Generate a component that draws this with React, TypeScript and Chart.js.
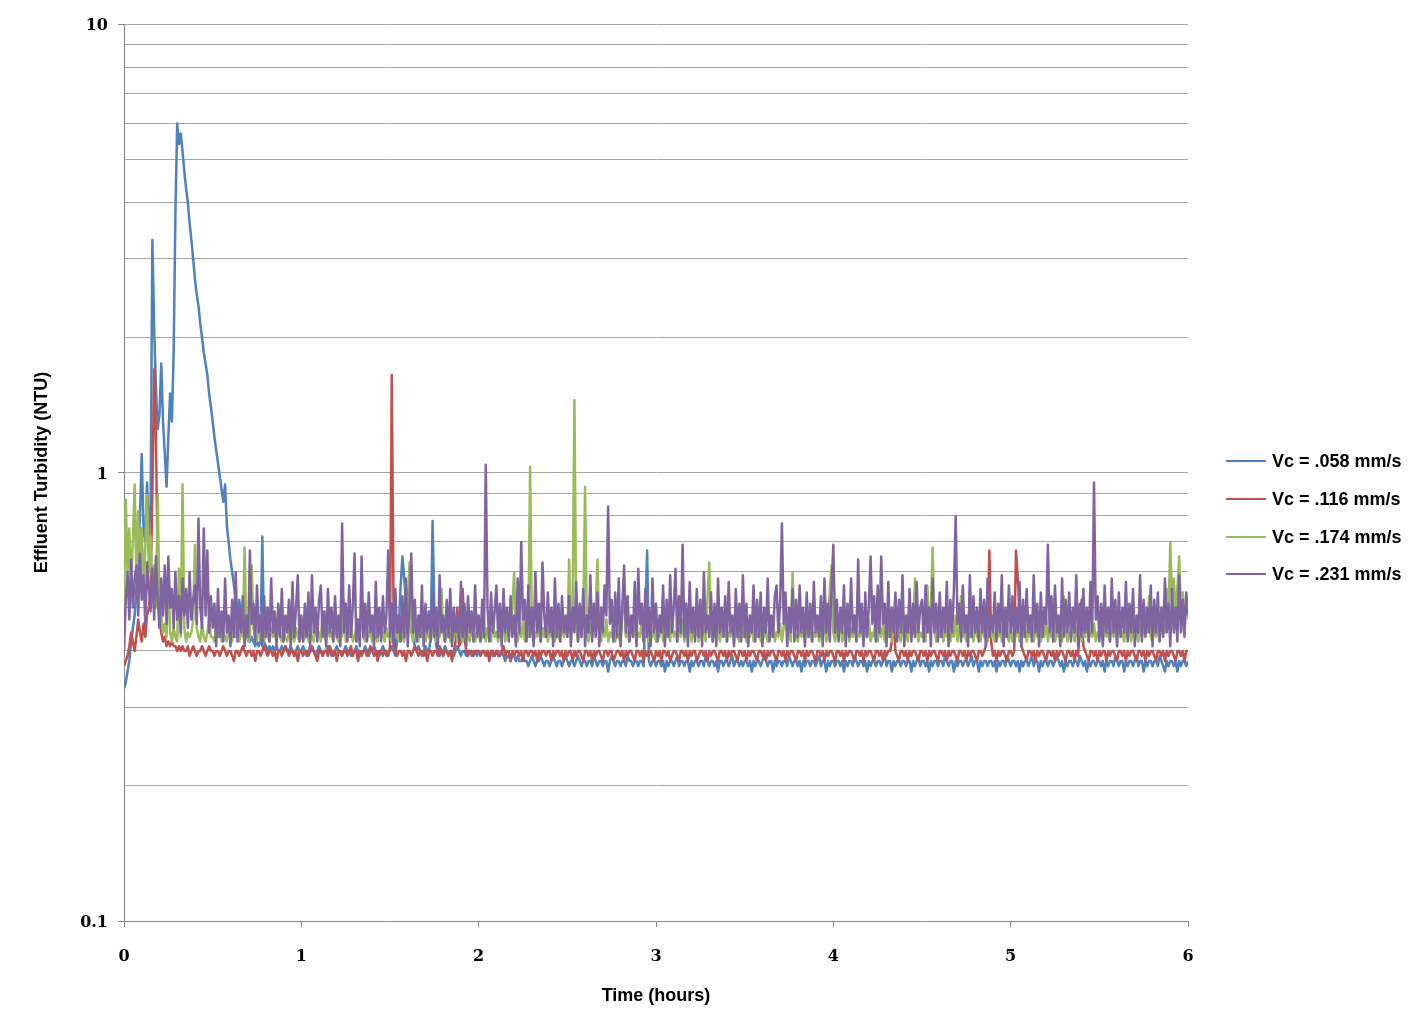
import React, { useEffect, useRef } from 'react';
import { Chart, registerables } from 'chart.js';

Chart.register(...registerables);

// Sample interval of the logged data (hours)
const STEP_HOURS = 0.01;
// The series below are stored in hundredths of an NTU
const NTU_PER_UNIT = 0.01;

const SERIES_NAMES = ['Vc = .058 mm/s', 'Vc = .116 mm/s', 'Vc = .174 mm/s', 'Vc = .231 mm/s'];
const SERIES_COLORS = ['#4F81BD', '#C0504D', '#9BBB59', '#8064A2'];

const Y_TICKS = [0.1, 0.2, 0.3, 0.4, 0.5, 0.6, 0.7, 0.8, 0.9, 1, 2, 3, 4, 5, 6, 7, 8, 9, 10];
const Y_LABELED = [0.1, 1, 10];
const Y_LABEL_TEXT = ['0.1', '1', '10'];
const X_MIN = 0;
const X_MAX = 6;

const BLUE_058 = [
  33,34,36,38,42,45,48,55,62,80,110,75,70,95,72,85,330,210,155,125,135,175,130,110,93,120,150,130,185,380,600,540,570,520,470,430,400,360,330,300,270,250,235,215,200,185,175,165,150,140,
  130,120,112,105,98,92,86,94,76,70,64,60,56,52,49,52,47,46,44,45,43,42,43,42,41,42,41,42,72,42,41,40,41,40,41,40,41,40,40,41,40,41,40,40,41,40,39,40,41,40,
  40,41,40,39,40,41,40,40,39,40,41,40,39,40,40,41,40,39,40,40,41,40,40,39,40,41,40,40,39,40,40,41,40,39,40,40,41,40,39,40,40,41,40,40,39,40,41,40,39,40,
  40,41,40,39,42,45,56,65,58,52,55,48,45,43,41,40,41,40,39,40,41,40,40,43,78,50,41,40,39,40,40,41,40,39,40,40,39,40,41,40,39,40,40,39,40,40,39,40,40,39,
  40,39,40,40,39,40,39,40,39,39,40,39,39,40,39,38,39,39,38,39,39,38,39,38,38,39,38,38,37,38,39,38,37,38,38,39,38,37,38,38,37,38,39,38,37,38,38,37,38,39,
  38,37,38,38,37,38,39,38,37,38,38,37,38,38,37,39,38,37,38,38,37,38,38,36,38,39,38,37,38,38,37,38,38,37,39,38,38,37,38,38,37,38,38,37,48,67,38,37,38,38,
  37,38,38,37,38,36,38,37,38,38,37,38,39,37,38,38,37,38,38,36,38,37,38,38,37,38,38,37,39,38,37,38,38,37,38,36,38,38,37,38,38,37,38,39,37,38,38,37,38,37,
  38,38,37,38,36,38,37,38,38,37,38,39,38,37,38,38,36,38,37,38,38,37,38,38,37,39,38,37,38,38,37,38,36,38,37,38,38,37,38,38,37,38,39,37,38,38,36,38,37,38,
  38,37,38,38,37,38,36,38,37,38,38,37,39,38,37,38,38,37,38,36,38,37,38,38,37,38,38,37,38,39,37,38,38,36,38,37,38,38,37,38,38,37,38,38,36,38,37,38,39,37,
  38,38,37,38,36,38,37,38,38,37,38,38,37,39,38,37,38,38,36,38,37,38,38,37,38,38,37,38,39,37,38,38,36,38,37,38,38,37,38,38,37,38,36,38,37,38,38,37,39,38,
  37,38,38,37,38,36,38,37,38,38,37,38,39,37,38,38,36,38,37,38,38,37,38,38,37,38,39,38,37,38,36,38,37,38,38,37,38,38,37,39,38,37,38,36,38,37,38,38,37,38,
  38,37,38,36,38,37,38,38,37,39,38,37,38,38,36,38,37,38,38,37,38,39,37,38,38,36,38,37,38,38,37,38,38,37,39,38,37,36,38,37,38,38,37,38,36,38,37,38,38,37,
  38
];

const RED_116 = [
  37,38,39,41,44,42,40,43,47,44,42,46,43,48,50,55,90,170,120,60,47,44,42,43,41,42,41,42,41,41,40,41,40,41,40,40,41,39,40,41,40,39,40,40,41,40,39,40,41,40,
  40,39,40,40,39,40,41,40,39,40,40,39,38,40,40,39,40,41,40,39,40,40,39,40,38,40,40,39,40,41,40,39,40,40,39,40,38,40,40,39,40,41,40,39,40,40,39,40,38,40,
  40,39,40,40,39,40,41,40,39,38,40,40,39,40,40,39,41,40,39,40,38,40,40,39,40,40,39,40,41,39,40,40,38,40,39,40,40,39,40,41,40,39,40,38,40,40,39,40,40,39,
  41,165,50,40,39,40,40,39,40,38,40,40,39,40,41,40,39,40,40,39,40,38,40,40,39,40,40,39,41,40,39,40,40,39,40,38,40,42,50,41,42,55,43,40,39,40,40,39,40,40,
  40,39,40,40,39,40,38,40,40,39,40,40,39,40,41,39,40,40,38,40,39,40,40,39,40,38,40,40,39,40,40,39,40,38,40,39,40,40,39,40,40,38,40,39,40,40,39,40,38,40,
  39,40,40,38,40,39,40,40,39,38,40,40,39,40,38,40,39,40,40,39,38,40,40,39,40,40,38,39,40,40,39,40,38,40,39,40,40,39,38,40,40,39,40,38,40,39,40,40,39,38,
  40,39,40,38,40,40,39,40,38,39,40,40,39,38,40,40,39,40,38,40,39,40,40,38,39,40,40,39,40,38,40,39,40,40,39,38,40,40,39,40,38,40,39,40,40,39,38,40,40,39,
  40,38,40,39,40,40,39,38,40,40,39,40,38,40,39,40,40,39,38,40,40,39,40,38,40,39,40,40,39,38,40,40,39,40,38,40,39,40,40,39,38,40,40,39,40,38,40,39,40,40,
  39,38,40,40,39,40,38,40,39,40,40,39,38,40,40,39,40,38,40,39,40,40,39,38,40,40,39,40,38,40,39,40,40,42,48,40,39,38,40,40,39,40,38,40,39,40,40,39,38,40,
  40,39,40,38,40,39,40,40,39,38,40,40,39,40,38,40,39,40,40,39,38,40,40,39,40,38,40,39,40,40,39,38,40,40,39,40,41,45,67,42,39,40,38,40,39,40,40,39,38,40,
  40,39,40,67,58,50,41,40,39,38,40,40,39,40,38,40,39,40,40,39,38,40,40,39,40,38,40,39,40,40,39,38,40,40,39,40,38,40,39,45,52,41,40,39,38,40,40,39,40,38,
  40,39,40,40,38,40,39,40,40,39,38,40,40,39,40,38,40,39,40,40,39,38,40,40,39,40,38,40,39,40,40,39,38,40,40,39,40,38,40,39,40,40,39,38,40,40,39,40,38,40,
  40
];

const GREEN_174 = [
  50,87,60,75,55,70,94,58,82,62,75,55,68,89,60,72,55,62,50,89,50,48,44,46,43,61,44,42,45,43,42,61,43,94,45,42,44,43,44,47,69,45,43,42,46,43,42,44,47,43,
  43,42,45,43,47,42,44,43,42,46,43,42,48,43,44,42,45,43,68,44,42,43,62,45,43,42,46,43,44,42,50,43,42,45,43,44,42,47,43,42,45,43,42,44,48,43,42,45,43,42,
  44,42,43,47,42,45,43,42,46,43,44,42,49,43,42,45,43,44,42,47,43,42,45,43,52,42,44,43,46,42,43,45,42,44,48,43,42,45,43,44,42,46,43,42,47,43,44,42,45,43,
  43,42,45,43,44,42,47,43,42,45,50,63,44,42,46,43,42,45,43,48,42,44,43,42,46,43,42,45,43,55,44,42,43,46,42,44,43,48,42,45,43,42,44,47,43,42,45,43,42,44,
  44,42,43,46,42,45,43,42,47,43,44,42,45,43,48,42,44,43,46,50,60,44,42,45,43,47,42,44,43,103,45,42,44,43,46,42,45,43,48,42,44,43,46,42,45,43,42,47,43,45,
  43,64,44,50,145,46,42,45,43,48,93,44,42,46,43,45,50,64,43,42,45,43,47,42,44,43,46,42,45,43,42,48,55,43,44,42,46,43,45,42,44,43,47,42,45,43,42,46,43,44,
  42,45,43,47,42,44,43,46,42,48,43,44,42,45,43,47,42,44,43,50,42,45,43,46,42,44,43,47,42,52,63,45,42,44,43,46,42,45,43,48,42,44,43,46,42,45,43,42,47,43,
  44,42,45,43,47,42,44,43,46,42,48,43,44,42,45,43,47,42,44,43,46,42,45,50,43,44,42,60,45,43,42,46,43,44,42,48,43,45,42,44,43,47,42,45,43,46,42,44,55,62,
  44,42,45,43,47,42,44,43,46,42,45,43,48,42,44,43,46,42,45,43,47,42,44,43,50,42,45,43,46,42,44,43,47,42,45,53,43,44,42,46,43,45,42,48,43,44,58,45,42,44,
  43,45,42,56,44,50,68,45,42,44,43,47,42,45,43,46,42,44,43,48,42,45,53,43,44,42,46,43,45,42,47,43,44,42,46,43,45,42,48,43,44,42,46,43,45,42,47,43,44,42,
  45,42,44,43,47,42,45,43,46,42,44,43,48,42,45,43,46,42,44,43,47,42,45,43,52,42,44,43,46,42,53,45,42,44,43,47,42,45,43,46,42,44,43,48,42,45,43,46,42,44,
  43,45,42,47,43,44,42,46,43,45,42,48,43,44,42,46,43,45,42,47,43,44,42,46,43,45,50,44,53,43,42,46,43,45,42,48,50,44,55,47,70,52,58,49,55,65,50,54,48,52,
  47
];

const PURPLE_231 = [
  40,52,60,47,64,50,58,62,48,66,52,59,46,63,55,49,61,47,65,52,45,58,48,62,46,65,50,55,45,60,47,53,44,58,48,55,45,60,47,52,56,46,79,50,45,75,48,67,44,53,
  45,51,41,55,43,49,42,58,44,48,41,52,43,60,42,50,44,53,41,48,43,67,46,51,42,56,44,48,41,53,43,50,42,58,44,49,41,51,43,55,42,48,44,52,41,57,43,50,59,42,
  48,42,51,43,54,41,59,44,50,42,52,56,43,49,41,55,44,50,42,53,43,48,41,77,44,51,42,56,43,50,66,42,47,41,65,43,51,42,54,44,48,41,57,43,50,42,53,44,48,67,
  43,51,41,55,44,48,42,53,43,58,41,50,66,44,52,42,48,43,56,41,51,44,49,42,54,43,50,41,59,44,48,42,52,43,55,41,50,44,48,42,57,43,51,41,53,44,49,42,56,43,
  48,42,52,43,104,50,42,54,44,49,56,43,51,41,55,44,50,42,53,43,48,41,58,44,70,47,52,42,56,43,50,41,60,44,51,42,63,48,43,54,44,50,41,58,43,51,42,53,44,48,
  43,53,41,50,44,57,42,51,43,55,41,48,44,59,42,51,43,54,41,50,44,56,48,84,46,52,42,54,43,58,41,50,62,44,53,42,48,43,57,41,61,46,51,42,55,43,50,41,58,44,
  51,42,48,44,56,41,52,43,59,44,50,61,42,53,44,69,43,51,41,57,44,50,42,55,43,52,41,60,44,48,43,54,42,51,41,58,44,50,43,53,42,57,44,48,41,55,43,51,42,59,
  43,51,41,48,44,56,42,52,43,54,41,50,44,58,42,48,43,53,56,44,51,77,46,54,41,50,44,55,42,52,43,56,44,50,41,54,43,51,42,57,44,48,43,53,41,58,44,51,42,55,
  69,44,52,42,50,44,56,41,51,43,58,44,48,42,64,44,51,41,54,43,50,65,46,53,42,56,44,65,46,51,41,57,43,50,44,54,42,52,44,59,41,48,44,55,42,51,43,57,44,50,
  52,42,56,44,50,41,58,44,51,42,54,43,50,44,57,41,52,44,55,80,46,51,42,56,44,48,41,59,43,53,44,50,42,55,44,52,41,58,43,48,44,54,42,51,44,59,41,50,43,56,
  44,53,42,50,44,57,41,52,43,55,44,48,42,59,44,51,41,54,43,50,46,69,44,53,42,56,44,48,41,58,43,52,44,54,42,50,44,59,41,51,43,55,44,50,42,57,44,95,47,53,
  42,51,41,56,44,50,42,58,44,52,41,54,43,50,44,57,42,51,44,55,41,48,44,59,42,52,43,50,44,56,41,52,44,54,42,50,43,58,44,51,41,55,44,50,42,59,44,52,43,54,
  48
];

const SERIES_VALUES = [BLUE_058, RED_116, GREEN_174, PURPLE_231];

const AXIS_COLOR = '#868686';
const GRID_COLOR = '#a6a6a6';

function labeledIndex(v: number): number {
  for (let i = 0; i < Y_LABELED.length; i++) {
    if (Math.abs(v - Y_LABELED[i]) < 1e-9) return i;
  }
  return -1;
}

export default function App() {
  const canvasRef = useRef<HTMLCanvasElement | null>(null);

  useEffect(() => {
    document.body.style.margin = '0';
    const canvas = canvasRef.current;
    if (!canvas) return;
    const datasets = SERIES_VALUES.map((vals, si) => ({
      label: SERIES_NAMES[si],
      data: vals.map((v, i) => ({ x: i * STEP_HOURS, y: v * NTU_PER_UNIT })),
      borderColor: SERIES_COLORS[si],
      backgroundColor: SERIES_COLORS[si],
      borderWidth: 2.5,
      borderJoinStyle: 'round',
      pointRadius: 0,
      pointHoverRadius: 0,
      tension: 0,
      fill: false,
      order: SERIES_VALUES.length - si,
    }));
    const chart = new Chart(canvas, {
      type: 'line',
      data: { datasets },
      options: {
        animation: false,
        responsive: false,
        maintainAspectRatio: false,
        events: [],
        layout: { padding: { top: 24, right: 236, bottom: 0, left: 0 } },
        plugins: {
          legend: { display: false },
          tooltip: { enabled: false },
        },
        scales: {
          x: {
            type: 'linear',
            min: X_MIN,
            max: X_MAX,
            afterFit: (s: any) => { s.height = 114; },
            ticks: {
              stepSize: 1,
              color: '#000',
              padding: 20,
              maxRotation: 0,
              font: { family: 'DejaVu Serif', weight: 'bold', size: 16 },
            },
            grid: { drawOnChartArea: false, drawTicks: true, tickLength: 6, tickColor: AXIS_COLOR },
            border: { color: AXIS_COLOR, width: 1 },
            title: {
              display: true,
              text: 'Time (hours)',
              color: '#000',
              font: { family: 'Liberation Sans', weight: 'bold', size: 18 },
              padding: { top: 0, bottom: 28 },
            },
          },
          y: {
            type: 'logarithmic',
            min: 0.1,
            max: 10,
            afterFit: (s: any) => { s.width = 124; },
            afterBuildTicks: (s: any) => { s.ticks = Y_TICKS.map((v) => ({ value: v })); },
            ticks: {
              autoSkip: false,
              color: '#000',
              padding: 10,
              labelOffset: 2,
              font: { family: 'DejaVu Serif', weight: 'bold', size: 16 },
              callback: (v: any) => {
                const k = labeledIndex(Number(v));
                return k >= 0 ? Y_LABEL_TEXT[k] : '';
              },
            },
            grid: {
              color: (ctx: any) => (ctx.tick && Math.abs(ctx.tick.value - 0.1) < 1e-9 ? 'rgba(0,0,0,0)' : GRID_COLOR),
              tickColor: (ctx: any) => (ctx.tick && labeledIndex(ctx.tick.value) >= 0 ? AXIS_COLOR : 'rgba(0,0,0,0)'),
              tickLength: 6,
              drawTicks: true,
            },
            border: { color: AXIS_COLOR, width: 1 },
            title: {
              display: true,
              text: 'Effluent Turbidity (NTU)',
              color: '#000',
              font: { family: 'Liberation Sans', weight: 'bold', size: 18 },
              padding: { top: 31, bottom: 0 },
            },
          },
        },
      },
    } as any);
    return () => chart.destroy();
  }, []);

  const legendCenters = [461, 499, 537, 574];

  return (
    <div style={{ position: 'fixed', left: 0, top: 0, width: 1424, height: 1035, background: '#fff' }}>
      <canvas ref={canvasRef} width={1424} height={1035} style={{ width: 1424, height: 1035, display: 'block' }} />
      {SERIES_NAMES.map((name, i) => (
        <div key={name} style={{ position: 'absolute', left: 1226, top: legendCenters[i] - 12, height: 24, display: 'flex', alignItems: 'center' }}>
          <div style={{ width: 40, height: 2, background: SERIES_COLORS[i], marginRight: 6 }} />
          <span style={{ fontFamily: 'Liberation Sans, sans-serif', fontWeight: 'bold', fontSize: 18, color: '#000', whiteSpace: 'nowrap' }}>{name}</span>
        </div>
      ))}
    </div>
  );
}
